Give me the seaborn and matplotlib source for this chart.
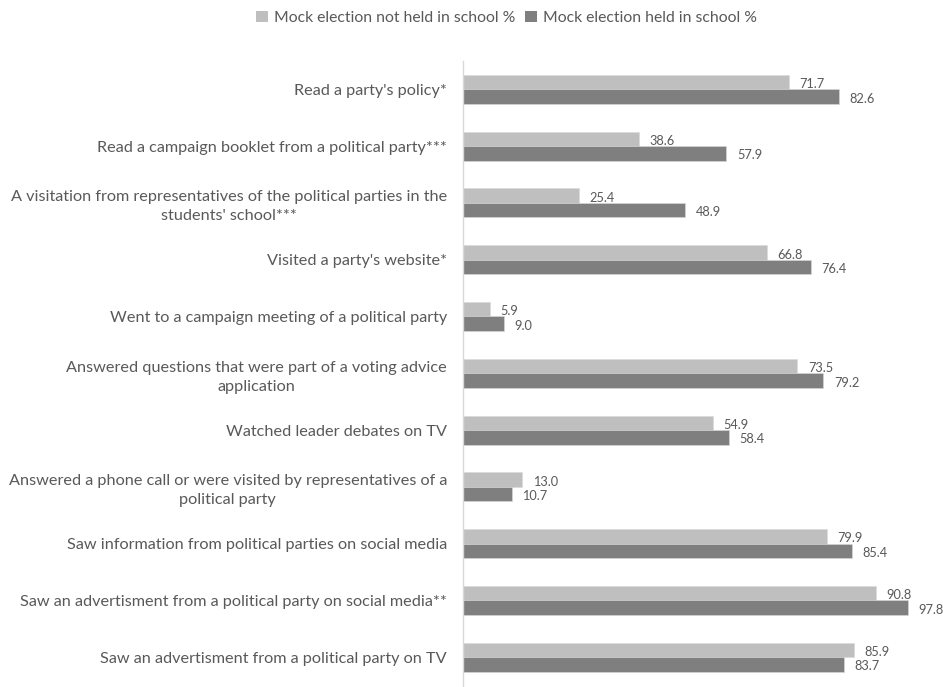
import matplotlib
matplotlib.use("Agg")
import matplotlib.pyplot as plt
import seaborn as sns
import pandas as pd
from matplotlib.patches import Patch

categories = [
    "Read a party's policy*",
    "Read a campaign booklet from a political party***",
    "A visitation from representatives of the political parties in the\nstudents' school***",
    "Visited a party's website*",
    "Went to a campaign meeting of a political party",
    "Answered questions that were part of a voting advice\napplication",
    "Watched leader debates on TV",
    "Answered a phone call or were visited by representatives of a\npolitical party",
    "Saw information from political parties on social media",
    "Saw an advertisment from a political party on social media**",
    "Saw an advertisment from a political party on TV",
]
not_held = [71.7, 38.6, 25.4, 66.8, 5.9, 73.5, 54.9, 13.0, 79.9, 90.8, 85.9]
held = [82.6, 57.9, 48.9, 76.4, 9.0, 79.2, 58.4, 10.7, 85.4, 97.8, 83.7]
series = ["Mock election not held in school %", "Mock election held in school %"]
colors = ["#bfbfbf", "#7f7f7f"]

df = pd.DataFrame({
    "category": categories * 2,
    "value": not_held + held,
    "series": [series[0]] * len(categories) + [series[1]] * len(categories),
})

sns.set_theme(style="white")
plt.rcParams["font.family"] = ["Lato", "DejaVu Sans"]
text_color = "#595959"

fig = plt.figure(figsize=(9.43, 6.87), dpi=100)
ax = fig.add_axes([463 / 943, 0.0, 455 / 943, 626 / 687])

sns.barplot(data=df, y="category", x="value", hue="series", order=categories,
            hue_order=series, palette=colors, width=0.51, orient="h",
            edgecolor="#d9d9d9", linewidth=0.4, legend=False, ax=ax)

ax.set_xlim(0, 100)
ax.set_ylim(10.5 + 1.5 / 57, -0.5)
ax.set_xlabel("")
ax.set_ylabel("")
ax.set_xticks([])
ax.tick_params(axis="y", length=0, pad=11.5, labelsize=11.7, labelcolor=text_color)
for lbl in ax.get_yticklabels():
    lbl.set_multialignment("center")
    lbl.set_linespacing(1.45)

for side in ["top", "right", "bottom"]:
    ax.spines[side].set_visible(False)
ax.spines["left"].set_color("#d9d9d9")
ax.spines["left"].set_linewidth(1.0)

for container in ax.containers:
    labels = ax.bar_label(container, fmt="%.1f", padding=7.5, fontsize=9.2,
                          color=text_color, clip_on=False)
    for t in labels:
        t.xyann = (t.xyann[0], -1.5)

handles = [Patch(facecolor=c, edgecolor="none") for c in colors]
fig.legend(handles, series, loc="upper center", bbox_to_anchor=(0.537, 1.005),
           ncol=2, frameon=False, fontsize=11.3, labelcolor=text_color,
           handlelength=0.75, handleheight=0.75, handletextpad=0.4,
           columnspacing=0.6)

fig.savefig("out.png", dpi=100)
